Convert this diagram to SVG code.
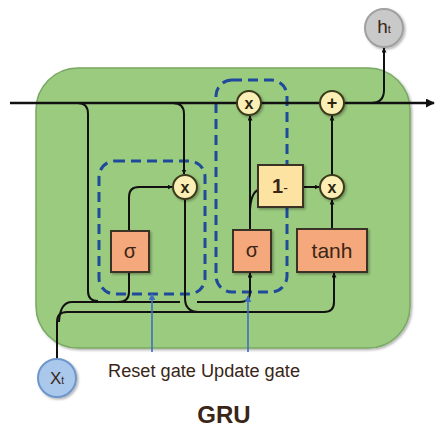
<svg xmlns="http://www.w3.org/2000/svg" width="436" height="429" viewBox="0 0 436 429">
<defs>
<marker id="ah" viewBox="0 0 10 10" refX="9" refY="5" markerWidth="5" markerHeight="5" orient="auto" markerUnits="userSpaceOnUse">
<path d="M0,0 L10,5 L0,10 z" fill="#111"/>
</marker>
<marker id="ahb" viewBox="0 0 10 10" refX="9" refY="5" markerWidth="7" markerHeight="7" orient="auto" markerUnits="userSpaceOnUse">
<path d="M0,0 L10,5 L0,10 z" fill="#3f6fc0"/>
</marker>
<marker id="ahm" viewBox="0 0 10 10" refX="9" refY="5" markerWidth="9" markerHeight="9" orient="auto" markerUnits="userSpaceOnUse">
<path d="M0,0 L10,5 L0,10 z" fill="#111"/>
</marker>
<filter id="sh" x="-20%" y="-20%" width="150%" height="150%">
<feDropShadow dx="1.5" dy="1.5" stdDeviation="1.2" flood-color="#000" flood-opacity="0.3"/>
</filter>
</defs>
<style>
.w{fill:none;stroke:#111;stroke-width:2}
.wa{fill:none;stroke:#111;stroke-width:2;marker-end:url(#ah)}
.dash{fill:none;stroke:#1f4a9c;stroke-width:3;stroke-dasharray:10 6}
.op{fill:#fbefb6;stroke:#3b3a1c;stroke-width:2}
.box{fill:#f5a87c;stroke:#3b3326;stroke-width:2}
.t{font-family:"Liberation Sans",Arial,sans-serif;fill:#3a2516;text-anchor:middle}
.ot{font-family:"Liberation Sans",Arial,sans-serif;fill:#2a2410;text-anchor:middle;font-weight:bold}
.blue{fill:none;stroke:#3f6fc0;stroke-width:1.6;marker-end:url(#ahb)}
</style>
<rect width="436" height="429" fill="#ffffff"/>
<rect x="36" y="68" width="374" height="280" rx="42" fill="#9bcb7f" stroke="#79a862" stroke-width="1.5" filter="url(#sh)"/>

<g id="dashed-boxes">
<rect x="99" y="161" width="106" height="133" rx="16" class="dash"/>
<rect x="216" y="80" width="71" height="212" rx="16" class="dash"/>
</g>

<g id="connectors">
<path d="M10,103 H434" fill="none" stroke="#111" stroke-width="2.5" marker-end="url(#ahm)"/>
<path class="w" d="M78,103 Q88,103 88,114 V291 Q88,301 98,301"/>
<path class="w" d="M57,359 V322 Q57,312 67,312 H324 Q334,312 334,302 V273" marker-end="url(#ah)"/>
<path class="w" d="M59,322 Q60,302 72,302 H180"/>
<path class="w" d="M118,302 Q129,302 129,292 V272"/>
<path class="wa" d="M197,302 H240 Q250,302 250,292 V273"/>
<path class="wa" d="M173,103 Q184,103 184,114 V174"/>
<path class="wa" d="M129,231 V197 Q129,187 139,187 H172"/>
<path class="w" d="M185,199 V298 Q185,312 199,312"/>
<path class="wa" d="M250,230 V116"/>
<path class="w" d="M250,210 Q251,193 258,190"/>
<path class="wa" d="M303,187 H319"/>
<path class="wa" d="M332,229 V200"/>
<path class="wa" d="M332,175 V116"/>
<path class="wa" d="M371,103 Q384,103 384,90 V48"/>
<path class="blue" d="M152,352 V294"/>
<path class="blue" d="M248,352 V296"/>
</g>

<g id="reset-sigma">
<rect class="box" x="111" y="231" width="38" height="41" filter="url(#sh)"/>
<text class="t" x="130" y="258" font-size="20">σ</text>
</g>
<g id="update-sigma">
<rect class="box" x="233" y="230" width="38" height="42" filter="url(#sh)"/>
<text class="t" x="252" y="257" font-size="20">σ</text>
</g>
<g id="tanh">
<rect class="box" x="297" y="229" width="70" height="43" filter="url(#sh)"/>
<text class="t" x="332" y="258" font-size="21">tanh</text>
</g>
<g id="one-minus">
<rect x="258" y="165" width="45" height="42" fill="#fde3a2" stroke="#3b3326" stroke-width="2" filter="url(#sh)"/>
<text class="t" x="280" y="193" font-size="20" font-weight="bold" fill="#1e1a10"><tspan>1</tspan><tspan font-size="14" font-weight="normal">-</tspan></text>
</g>
<g id="reset-mult">
<circle class="op" cx="185" cy="187" r="12" filter="url(#sh)"/>
<text class="ot" x="185" y="192.5" font-size="16">x</text>
</g>
<g id="update-mult">
<circle class="op" cx="249" cy="103" r="12" filter="url(#sh)"/>
<text class="ot" x="249" y="108.5" font-size="16">x</text>
</g>
<g id="plus">
<circle class="op" cx="332" cy="103" r="12" filter="url(#sh)"/>
<text class="ot" x="332" y="109" font-size="18">+</text>
</g>
<g id="cand-mult">
<circle class="op" cx="332" cy="187" r="12" filter="url(#sh)"/>
<text class="ot" x="332" y="192.5" font-size="16">x</text>
</g>
<g id="ht">
<circle cx="384" cy="28" r="19" fill="#c9c9c9" stroke="#a0a0a0" stroke-width="2" filter="url(#sh)"/>
<text class="t" x="384" y="33" font-size="19" fill="#333"><tspan>h</tspan><tspan font-size="11">t</tspan></text>
</g>
<g id="xt">
<circle cx="57" cy="378" r="19" fill="#a9c8ec" stroke="#6d97cb" stroke-width="2" filter="url(#sh)"/>
<text class="t" x="57" y="384" font-size="17" fill="#222"><tspan>X</tspan><tspan font-size="10">t</tspan></text>
</g>

<text class="t" x="204" y="377" font-size="18" fill="#222" textLength="192" lengthAdjust="spacingAndGlyphs">Reset gate Update gate</text>
<text class="t" x="224" y="423" font-size="24" font-weight="bold" fill="#222">GRU</text>
</svg>
